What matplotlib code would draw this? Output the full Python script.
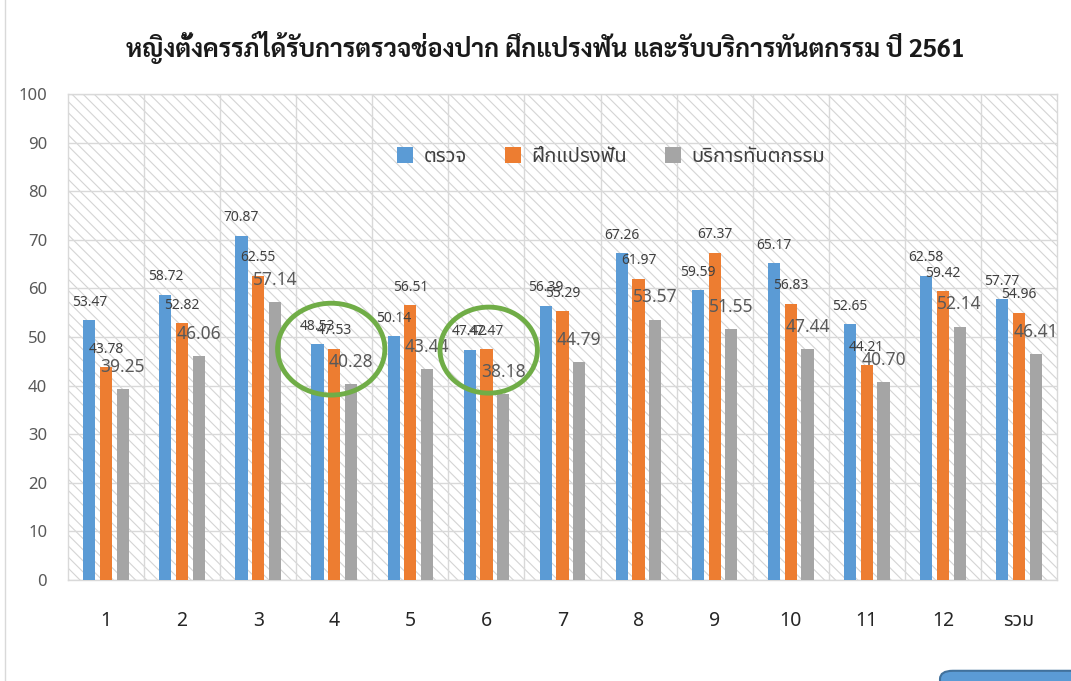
import numpy as np
import matplotlib
matplotlib.use('Agg')
import matplotlib.pyplot as plt
from matplotlib import font_manager as fm
from matplotlib.patches import Ellipse, FancyBboxPatch
from matplotlib.lines import Line2D

# Data
categories = ['1', '2', '3', '4', '5', '6', '7', '8', '9', '10', '11', '12', 'รวม']
series_names = ['ตรวจ', 'ฝึกแปรงฟัน', 'บริการทันตกรรม']
check_vals = [53.47, 58.72, 70.87, 48.53, 50.14, 47.42, 56.39, 67.26, 59.59, 65.17, 52.65, 62.58, 57.77]
brush_vals = [43.78, 52.82, 62.55, 47.53, 56.51, 47.47, 55.29, 61.97, 67.37, 56.83, 44.21, 59.42, 54.96]
service_vals = [39.25, 46.06, 57.14, 40.28, 43.44, 38.18, 44.79, 53.57, 51.55, 47.44, 40.70, 52.14, 46.41]
title_str = 'หญิงตั้งครรภ์ได้รับการตรวจช่องปาก ฝึกแปรงฟัน และรับบริการทันตกรรม ปี 2561'

# Fonts with Thai glyphs
names = set(f.name for f in fm.fontManager.ttflist)
thai_font = 'DejaVu Sans'
for cand in ['Noto Sans Thai', 'Noto Sans Thai Looped', 'Sarabun', 'Prompt', 'Kanit']:
    if cand in names:
        thai_font = cand
        break
title_font = thai_font
for cand in ['Sarabun', 'Noto Sans Thai', 'Bai Jamjuree']:
    if cand in names:
        title_font = cand
        break
plt.rcParams['font.family'] = [thai_font, 'DejaVu Sans']
plt.rcParams['hatch.color'] = '#d4d4d4'
plt.rcParams['hatch.linewidth'] = 0.8

colors = ['#5b9bd5', '#ed7d31', '#a5a5a5']
grid_col = '#d9d9d9'

fig = plt.figure(figsize=(10.71, 6.81), dpi=100)
ax = fig.add_axes([68/1071, 1 - 580/681, 989/1071, 486/681])

# hatched plot background
ax.patch.set_facecolor('white')
ax.patch.set_edgecolor('#d4d4d4')
ax.patch.set_linewidth(0)
ax.patch.set_hatch('\\\\\\')

x = np.arange(len(categories))
bw = 0.16
offs = [-0.22, 0.0, 0.22]
all_vals = [check_vals, brush_vals, service_vals]
for k in range(3):
    ax.bar(x + offs[k], all_vals[k], width=bw, color=colors[k], label=series_names[k], zorder=3)
    for xi, v in zip(x, all_vals[k]):
        if k == 2:
            ax.annotate('%.2f' % v, (xi + offs[k], v), xytext=(0, 16), textcoords='offset points',
                        ha='center', va='center', fontsize=12.5, color='#595959', zorder=5)
        else:
            ax.annotate('%.2f' % v, (xi + offs[k], v), xytext=(0, 13), textcoords='offset points',
                        ha='center', va='center', fontsize=10, color='#404040', zorder=5)

ax.set_xlim(-0.5, len(categories) - 0.5)
ax.set_ylim(0, 100)
ax.set_yticks(np.arange(0, 101, 10))
ax.set_xticks(x)
ax.set_xticklabels(categories)
ax.set_xticks(np.arange(0.5, len(categories) - 0.5, 1), minor=True)
ax.tick_params(axis='both', which='both', length=0)
ax.tick_params(axis='x', pad=22, labelsize=14, colors='#262626')
ax.tick_params(axis='y', pad=15, labelsize=12, colors='#595959')
ax.grid(axis='y', color=grid_col, linewidth=1, zorder=1)
ax.grid(axis='x', which='minor', color=grid_col, linewidth=1, zorder=1)
ax.set_axisbelow(True)
for sp in ax.spines.values():
    sp.set_color(grid_col)
    sp.set_linewidth(1)

leg = ax.legend(loc='center', bbox_to_anchor=(0.549, 0.87), ncol=3, frameon=False,
                fontsize=14.5, handlelength=0.8, handleheight=0.8, handletextpad=0.5,
                columnspacing=1.9, labelcolor='#404040')

# green circles drawn on the chart
ax.add_patch(Ellipse((2.96, 47.5), 1.41, 18.9, fill=False, edgecolor='#70ad47', linewidth=3.5, zorder=6))
ax.add_patch(Ellipse((5.03, 47.3), 1.28, 17.7, fill=False, edgecolor='#70ad47', linewidth=3.5, zorder=6))

fig.text(545/1071, 1 - 48/681, title_str, ha='center', va='center', fontsize=18,
         fontweight='bold', color='#1a1a1a', family=[title_font, thai_font, 'DejaVu Sans'])

# slide border and button at the bottom right
fig.add_artist(Line2D([5/1071, 5/1071], [0, 1], color='#d9d9d9', linewidth=1))
fig.add_artist(FancyBboxPatch((940/1071, -0.05), 150/1071, 0.065,
                              boxstyle='round,pad=0,rounding_size=0.012',
                              facecolor='#5b9bd5', edgecolor='#41719c', linewidth=1.5,
                              transform=fig.transFigure))

fig.savefig('out.png', dpi=100)
